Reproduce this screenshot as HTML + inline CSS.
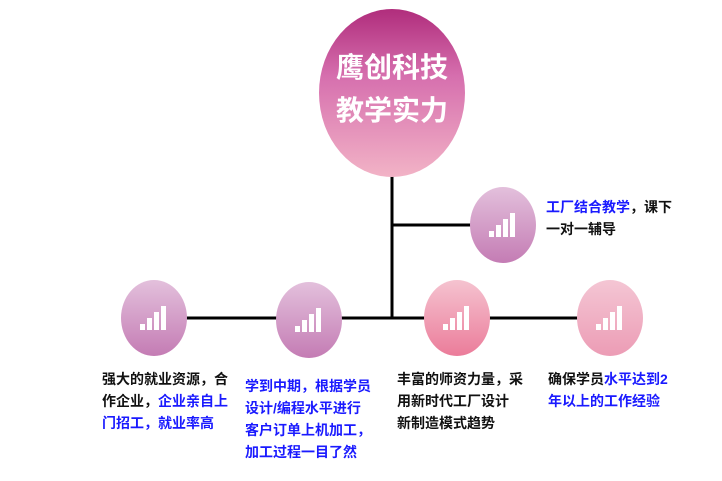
<!DOCTYPE html>
<html><head><meta charset="utf-8"><style>
body{margin:0;width:722px;height:481px;background:#fff;position:relative;overflow:hidden;font-family:"Liberation Sans","Noto Sans CJK SC",sans-serif}
.t{position:absolute;font-size:14px;font-weight:bold;line-height:22px;color:#111;white-space:nowrap}
.b{color:#1a1aff}
</style></head><body>
<svg width="722" height="481" style="position:absolute;left:0;top:0">
<defs>
<linearGradient id="g0" x1="0" y1="0" x2="0" y2="1"><stop offset="0" stop-color="#b02d7c"/><stop offset="0.4" stop-color="#d66fae"/><stop offset="1" stop-color="#f2b3c6"/></linearGradient>
<linearGradient id="gp" x1="0" y1="0" x2="0" y2="1"><stop offset="0" stop-color="#e3c0dc"/><stop offset="1" stop-color="#c47cb4"/></linearGradient>
<linearGradient id="gr" x1="0" y1="0" x2="0" y2="1"><stop offset="0" stop-color="#f5c3d0"/><stop offset="1" stop-color="#eb7c9a"/></linearGradient>
<linearGradient id="gl" x1="0" y1="0" x2="0" y2="1"><stop offset="0" stop-color="#f4c6d4"/><stop offset="1" stop-color="#ec9cb5"/></linearGradient>
<g id="bars" fill="#fff"><rect x="-14" y="6" width="5" height="6"/><rect x="-7" y="0" width="5" height="12"/><rect x="0" y="-6" width="5" height="18"/><rect x="7" y="-12" width="5" height="24"/></g>
</defs>
<g stroke="#000" stroke-width="3"><line x1="392" y1="176" x2="392" y2="319"/><line x1="186" y1="318" x2="580" y2="318"/><line x1="392" y1="225" x2="472" y2="225"/></g>
<ellipse cx="392" cy="93" rx="73" ry="84" fill="url(#g0)"/>
<ellipse cx="154" cy="318" rx="33" ry="38" fill="url(#gp)"/><use href="#bars" x="154" y="318"/>
<ellipse cx="309" cy="320" rx="33" ry="38" fill="url(#gp)"/><use href="#bars" x="309" y="320"/>
<ellipse cx="503" cy="225" rx="33" ry="38" fill="url(#gp)"/><use href="#bars" x="503" y="225"/>
<ellipse cx="457" cy="318" rx="33" ry="38" fill="url(#gr)"/><use href="#bars" x="457" y="318"/>
<ellipse cx="610" cy="318" rx="33" ry="38" fill="url(#gl)"/><use href="#bars" x="610" y="318"/>
<g fill="#fff" font-size="28" font-weight="bold" text-anchor="middle" font-family="Liberation Sans,Noto Sans CJK SC,sans-serif"><text x="392" y="77">鹰创科技</text><text x="392" y="120">教学实力</text></g>
</svg>
<div class="t" style="left:102px;top:368px">强大的就业资源，合<br>作企业，<span class="b">企业亲自上<br>门招工，就业率高</span></div>
<div class="t b" style="left:245px;top:375px">学到中期，根据学员<br>设计/编程水平进行<br>客户订单上机加工，<br>加工过程一目了然</div>
<div class="t" style="left:397px;top:368px">丰富的师资力量，采<br>用新时代工厂设计<br>新制造模式趋势</div>
<div class="t" style="left:548px;top:368px">确保学员<span class="b">水平达到2<br>年以上的工作经验</span></div>
<div class="t" style="left:546px;top:196px"><span class="b">工厂结合教学</span>，课下<br>一对一辅导</div>
</body></html>
